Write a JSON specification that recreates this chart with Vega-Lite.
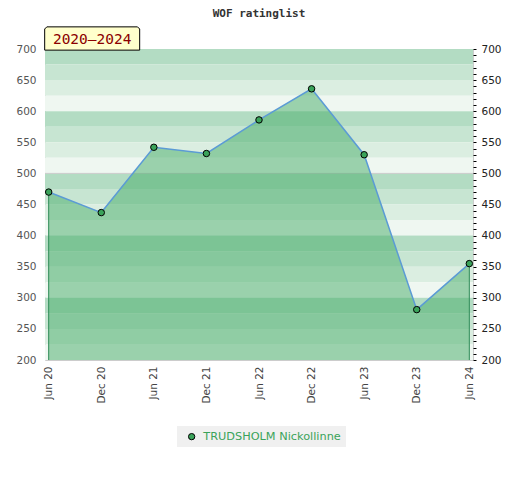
{
  "$schema": "https://vega.github.io/schema/vega-lite/v6.json",
  "width": 428,
  "height": 311,
  "autosize": "none",
  "padding": {"left": 45, "top": 49, "right": 47, "bottom": 120},
  "background": "white",
  "title": {
    "text": "WOF ratinglist",
    "font": "DejaVu Sans Mono",
    "fontSize": 11,
    "fontWeight": "bold",
    "color": "#333333",
    "anchor": "middle",
    "frame": "group",
    "offset": 6
  },
  "config": {
    "font": "DejaVu Sans",
    "view": {"stroke": "#cccccc"}
  },
  "datasets": {
    "ratings": [
      {"date": "Jun 20", "rating": 470, "player": "TRUDSHOLM Nickollinne"},
      {"date": "Dec 20", "rating": 437, "player": "TRUDSHOLM Nickollinne"},
      {"date": "Jun 21", "rating": 542, "player": "TRUDSHOLM Nickollinne"},
      {"date": "Dec 21", "rating": 532, "player": "TRUDSHOLM Nickollinne"},
      {"date": "Jun 22", "rating": 586, "player": "TRUDSHOLM Nickollinne"},
      {"date": "Dec 22", "rating": 636, "player": "TRUDSHOLM Nickollinne"},
      {"date": "Jun 23", "rating": 530, "player": "TRUDSHOLM Nickollinne"},
      {"date": "Dec 23", "rating": 281, "player": "TRUDSHOLM Nickollinne"},
      {"date": "Jun 24", "rating": 355, "player": "TRUDSHOLM Nickollinne"}
    ],
    "bands": [
      {"lo": 675, "hi": 700, "shade": 0}, {"lo": 650, "hi": 675, "shade": 1},
      {"lo": 625, "hi": 650, "shade": 2}, {"lo": 600, "hi": 625, "shade": 3},
      {"lo": 575, "hi": 600, "shade": 0}, {"lo": 550, "hi": 575, "shade": 1},
      {"lo": 525, "hi": 550, "shade": 2}, {"lo": 500, "hi": 525, "shade": 3},
      {"lo": 475, "hi": 500, "shade": 0}, {"lo": 450, "hi": 475, "shade": 1},
      {"lo": 425, "hi": 450, "shade": 2}, {"lo": 400, "hi": 425, "shade": 3},
      {"lo": 375, "hi": 400, "shade": 0}, {"lo": 350, "hi": 375, "shade": 1},
      {"lo": 325, "hi": 350, "shade": 2}, {"lo": 300, "hi": 325, "shade": 3},
      {"lo": 275, "hi": 300, "shade": 0}, {"lo": 250, "hi": 275, "shade": 1},
      {"lo": 225, "hi": 250, "shade": 2}, {"lo": 200, "hi": 225, "shade": 3}
    ],
    "period": [{"label": "2020–2024"}]
  },
  "layer": [
    {
      "data": {"name": "bands"},
      "mark": {"type": "rect"},
      "encoding": {
        "y": {
          "field": "lo",
          "type": "quantitative",
          "scale": {"domain": [200, 700], "nice": false, "zero": false},
          "axis": {
            "orient": "left",
            "title": null,
            "values": [200, 250, 300, 350, 400, 450, 500, 550, 600, 650, 700],
            "ticks": false,
            "domain": false,
            "grid": false,
            "labelColor": "#555555",
            "labelFontSize": 10.5,
            "labelPadding": 9
          }
        },
        "y2": {"field": "hi"},
        "fill": {
          "field": "shade",
          "type": "ordinal",
          "scale": {"domain": [0, 1, 2, 3], "range": ["#b3dcc3", "#c7e5d2", "#dbeee1", "#eff7f1"]},
          "legend": null
        }
      }
    },
    {
      "data": {"values": [{}]},
      "mark": {"type": "rule", "color": "#cccccc", "strokeWidth": 1},
      "encoding": {
        "y": {"datum": 500, "type": "quantitative", "axis": null}
      }
    },
    {
      "data": {"name": "ratings"},
      "mark": {"type": "area", "color": "#46ab68", "opacity": 0.5},
      "encoding": {
        "x": {
          "field": "date",
          "type": "ordinal",
          "sort": null,
          "scale": {"type": "point", "padding": 0.07},
          "axis": {
            "title": null,
            "labelAngle": -90,
            "ticks": false,
            "domain": false,
            "grid": false,
            "labelColor": "#444444",
            "labelFontSize": 10.5,
            "labelPadding": 6
          }
        },
        "y": {"field": "rating", "type": "quantitative", "axis": null},
        "y2": {"datum": 200}
      }
    },
    {
      "data": {"name": "ratings"},
      "transform": [{"filter": "datum.date === 'Jun 20' || datum.date === 'Jun 24'"}],
      "mark": {"type": "rule", "color": "#2e8b57", "strokeWidth": 1},
      "encoding": {
        "x": {"field": "date", "type": "ordinal", "sort": null},
        "y": {"field": "rating", "type": "quantitative", "axis": null},
        "y2": {"datum": 200}
      }
    },
    {
      "data": {"name": "ratings"},
      "mark": {"type": "line", "color": "#5b9bd5", "strokeWidth": 1.5},
      "encoding": {
        "x": {"field": "date", "type": "ordinal", "sort": null},
        "y": {"field": "rating", "type": "quantitative", "axis": null}
      }
    },
    {
      "data": {"name": "ratings"},
      "mark": {"type": "point", "filled": true, "opacity": 1, "stroke": "black", "strokeWidth": 1, "size": 42, "shape": "circle"},
      "encoding": {
        "x": {"field": "date", "type": "ordinal", "sort": null},
        "y": {
          "field": "rating",
          "type": "quantitative",
          "axis": {
            "orient": "right",
            "title": null,
            "values": [200, 210, 220, 230, 240, 250, 260, 270, 280, 290, 300, 310, 320, 330, 340, 350, 360, 370, 380, 390, 400, 410, 420, 430, 440, 450, 460, 470, 480, 490, 500, 510, 520, 530, 540, 550, 560, 570, 580, 590, 600, 610, 620, 630, 640, 650, 660, 670, 680, 690, 700],
            "labelExpr": "datum.value % 50 === 0 ? datum.label : ''",
            "labelOverlap": false,
            "tickSize": 3,
            "tickColor": "#000000",
            "domain": false,
            "grid": false,
            "labelColor": "#222222",
            "labelFontSize": 10.5,
            "labelPadding": 5
          }
        },
        "color": {
          "field": "player",
          "type": "nominal",
          "scale": {"range": ["#3aa35a"]},
          "legend": {
            "title": null,
            "orient": "none",
            "legendX": 132,
            "legendY": 377,
            "fillColor": "#f0f0f0",
            "padding": 5,
            "labelColor": "#3aa35a",
            "labelFontSize": 11.3,
            "labelOffset": 6,
            "symbolOffset": 4,
            "symbolType": "circle",
            "symbolSize": 40,
            "symbolStrokeColor": "black",
            "symbolStrokeWidth": 1
          }
        }
      }
    },
    {
      "data": {"name": "period"},
      "mark": {
        "type": "point",
        "shape": "M -1,0.245 L -1,-0.2 L -0.955,-0.245 L 0.955,-0.245 L 1,-0.2 L 1,0.245 Z",
        "size": 9025,
        "filled": true,
        "fill": "#ffffcc",
        "stroke": "black",
        "strokeWidth": 1,
        "opacity": 1,
        "xOffset": 43.5,
        "yOffset": -10.5
      },
      "encoding": {
        "x": {"datum": "Jun 20", "type": "ordinal"},
        "y": {"datum": 700, "type": "quantitative", "axis": null}
      }
    },
    {
      "data": {"name": "period"},
      "mark": {
        "type": "text",
        "font": "DejaVu Sans Mono",
        "fontSize": 14.5,
        "color": "#8b0000",
        "align": "center",
        "baseline": "middle",
        "xOffset": 43.5,
        "yOffset": -9.5
      },
      "encoding": {
        "x": {"datum": "Jun 20", "type": "ordinal"},
        "y": {"datum": 700, "type": "quantitative", "axis": null},
        "text": {"field": "label"}
      }
    }
  ],
  "resolve": {"axis": {"y": "independent"}}
}
